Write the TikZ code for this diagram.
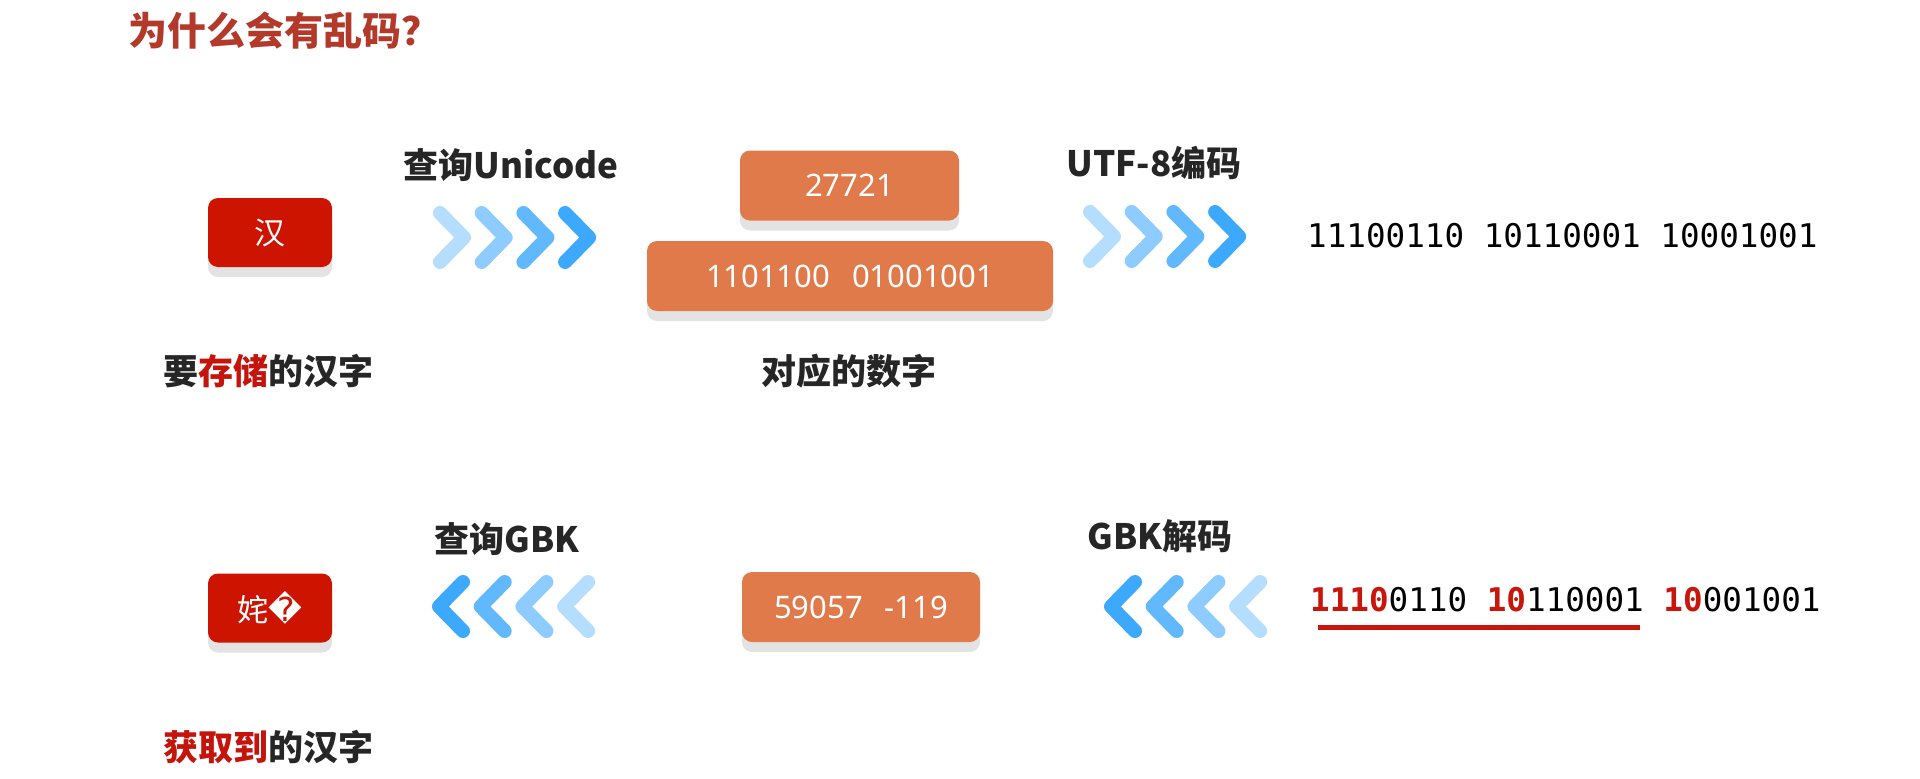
\documentclass[tikz,border=0pt]{standalone}
\usepackage{fontspec}
\newfontfamily\cjk{Noto Sans CJK SC}
\newfontfamily\numf{Noto Sans}
\newfontfamily\monof{DejaVu Sans Mono}
\newfontfamily\dvs{DejaVu Sans}
\definecolor{boxred}{HTML}{CC1400}
\definecolor{boxor}{HTML}{E07A4A}
\definecolor{shadowgray}{HTML}{E3E3E3}
\definecolor{titlered}{HTML}{B33A2B}
\definecolor{lbldark}{HTML}{262626}
\definecolor{lblred}{HTML}{C4140C}
\definecolor{bitred}{HTML}{C8160A}
\definecolor{chA}{HTML}{B5DDFD}
\definecolor{chB}{HTML}{8ECBFE}
\definecolor{chC}{HTML}{62B8FD}
\definecolor{chD}{HTML}{3DA9FC}
\tikzset{
  shadowed/.style={preaction={fill=shadowgray, transform canvas={yshift=-10pt}}},
  redbox/.style={shadowed, fill=boxred, rounded corners=10pt, minimum width=124pt, minimum height=69pt, inner sep=0pt, text=white, font=\cjk\fontsize{31}{31}\selectfont},
  orbox/.style={shadowed, fill=boxor, rounded corners=10pt, minimum height=70pt, inner sep=0pt, text=white, font=\numf\fontsize{31}{31}\selectfont},
  lbl/.style={font=\cjk\bfseries\fontsize{35}{35}\selectfont, text=lbldark, inner sep=0pt},
  bin/.style={font=\monof\fontsize{32.6}{33}\selectfont, anchor=west, inner sep=0pt, text=black},
  chev/.style={line width=14pt, line cap=round, line join=round},
}
\begin{document}
\begin{tikzpicture}[x=1pt,y=-1pt]
\useasboundingbox (0,0) rectangle (1920,779);
% title
\node[anchor=west, inner sep=0pt, text=titlered, font=\cjk\bfseries\fontsize{39}{39}\selectfont] (title) at (128,31) {为什么会有乱码？};
% top row
\node[redbox] (han) at (270,232.5) {汉};
\node[lbl] (q1) at (511,165) {查询Unicode};
\node[orbox, minimum width=219pt] (n1) at (849.5,185.5) {27721};
\node[orbox, minimum width=406pt] (n2) at (850,276) {1101100\hspace{22pt}01001001};
\node[lbl] (u8) at (1154,163) {UTF-8编码};
\node[bin] (b1) at (1307,236) {11100110 10110001 10001001};
\node[lbl] (l1) at (268,371) {要{\color{lblred}存储}的汉字};
\node[lbl] (l2) at (849,371) {对应的数字};
% bottom row
\node[redbox] (bad) at (270,608) {姹{\dvs\fontsize{33}{33}\selectfont �}};
\node[lbl] (q2) at (507,539) {查询GBK};
\node[orbox, minimum width=238pt] (n3) at (861,607) {59057\hspace{22pt}-119};
\node[lbl] (gd) at (1160,536) {GBK解码};
\node[bin] (b2) at (1310,600) {{\color{bitred}\bfseries 1110}0110 {\color{bitred}\bfseries 10}110001 {\color{bitred}\bfseries 10}001001};
\node[lbl] (l3) at (268,747) {{\color{lblred}获取到}的汉字};
\draw[bitred, line width=5pt] (1318,627) -- (1640,627);
% chevrons
\foreach \i/\c in {0/chA,1/chB,2/chC,3/chD}{
  \draw[chev, draw=\c] ({440+41.7*\i},213) -- ({464+41.7*\i},237.5) -- ({440+41.7*\i},262);
  \draw[chev, draw=\c] ({1090+41.7*\i},212) -- ({1114+41.7*\i},236.5) -- ({1090+41.7*\i},261);
}
\foreach \i/\c in {0/chD,1/chC,2/chB,3/chA}{
  \draw[chev, draw=\c] ({463+41.7*\i},582) -- ({439+41.7*\i},606.5) -- ({463+41.7*\i},631);
  \draw[chev, draw=\c] ({1135+41.7*\i},582) -- ({1111+41.7*\i},606.5) -- ({1135+41.7*\i},631);
}
\end{tikzpicture}
\end{document}
